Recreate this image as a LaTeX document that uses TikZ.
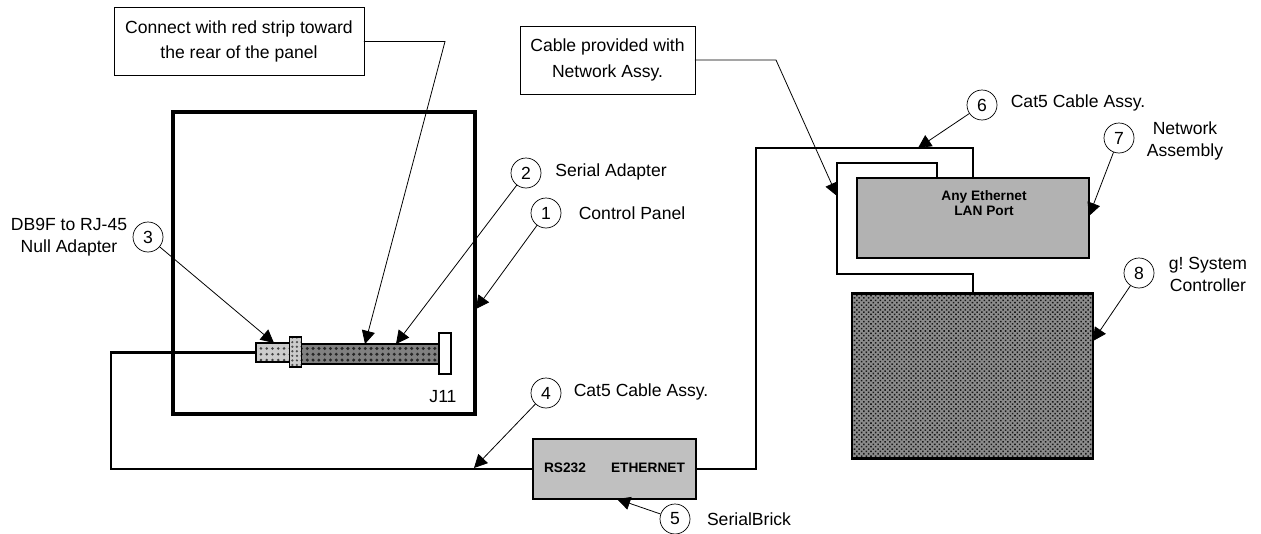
\documentclass[tikz,border=0pt]{standalone}
\usepackage{fontspec}
\setmainfont{Liberation Sans}
\frenchspacing
\usetikzlibrary{arrows.meta,patterns.meta}
\definecolor{netgray}{RGB}{178, 178, 178}
\definecolor{brickgray}{RGB}{192, 192, 192}
\tikzset{
  label10/.style={inner sep=0, outer sep=0, align=center, font=\fontsize{10}{12.5}\selectfont},
  noteb/.style={draw, line width=0.5pt, inner sep=0, outer sep=0, align=center, font=\fontsize{10}{14.3}\selectfont},
  num/.style={draw, circle, line width=0.4pt, minimum size=0.6cm, inner sep=0, fill=white, font=\fontsize{10}{12}\selectfont},
  devbox/.style={draw, line width=1.3pt, inner sep=0, outer sep=0, align=center},
  boldlbl/.style={inner sep=0, outer sep=0, align=center, font=\fontsize{7.8}{8.8}\selectfont\bfseries},
  cable/.style={line width=1.15pt},
  callout/.style={line width=0.45pt, -{Triangle[length=7.5pt,width=7.5pt]}},
}
\begin{document}
\begin{tikzpicture}[x=0.02cm,y=-0.02cm]
  \useasboundingbox (0,0) rectangle (1261,534);
  % Control panel
  \node[draw, line width=2.4pt, inner sep=0, outer sep=0, minimum width=6.04cm, minimum height=6.04cm] (panel) at (324,263) {};
  \node[label10] (jlabel) at (443,397) {J11};

  % Serial adapter parts
  \node[draw, line width=0.6pt, outer sep=0, minimum width=0.7cm, minimum height=0.38cm, preaction={fill=black!20}, pattern={Dots[radius=0.8pt,distance=3.3pt]}, pattern color=black!75] (adapter) at (273.5,352.5) {};
  \node[draw, line width=1pt, outer sep=0, minimum width=2.8cm, minimum height=0.4cm, preaction={fill=black!50}, pattern={Dots[radius=0.95pt,distance=3.3pt]}, pattern color=black!85] (strip) at (370,354) {};
  \node[draw, line width=0.6pt, outer sep=0, minimum width=0.18cm, minimum height=0.6cm, preaction={fill=black!20}, pattern={Dots[radius=0.7pt,distance=2.6pt]}, pattern color=black!70] (flange) at (295.5,352) {};
  \node[draw, line width=0.8pt, outer sep=0, minimum width=0.2cm, minimum height=0.82cm, fill=white] (jack) at (445,353.5) {};

  % Devices
  \node[devbox, fill=brickgray, minimum width=3.26cm, minimum height=1.2cm] (brick) at (614.5,469) {};
  \node[boldlbl] (rslabel) at (565,468) {RS232};
  \node[boldlbl] (ethlabel) at (648,468) {ETHERNET};
  \node[devbox, fill=netgray, minimum width=4.64cm, minimum height=1.6cm] (netbox) at (973,218) {};
  \node[boldlbl] (portlabel) at (984,203) {Any Ethernet\\LAN Port};
  \node[devbox, preaction={fill=black!45}, pattern={Dots[radius=0.62pt,distance=1.9pt,angle=45]}, pattern color=black!90, minimum width=4.82cm, minimum height=3.3cm] (ctrl) at (972.5,376) {};

  % Cable routing points
  \coordinate (cableL) at (111,400);
  \coordinate (cableR) at (756,148);
  \coordinate (portA) at (937,178);
  \coordinate (loopT) at (837,163);
  \coordinate (loopB) at (837,274);

  \draw[cable] (adapter.west) -| (cableL) |- (brick.west);
  \draw[cable] (brick.east) -| (cableR) -| (netbox.north);
  \draw[cable] (portA) |- (loopT) -- (loopB) -| (ctrl.north);

  % Notes
  \node[noteb, minimum width=5cm, minimum height=1.35cm] (note1) at (239,41.5) {Connect with red strip toward\\the rear of the panel};
  \node[noteb, minimum width=3.5cm, minimum height=1.36cm] (note2) at (607.5,60) {Cable provided with\\Network Assy.};

  % Numbered circles
  \node[num] (n1) at (546,213) {1};
  \node[num] (n2) at (526,173) {2};
  \node[num] (n3) at (148,237) {3};
  \node[num] (n4) at (546,393) {4};
  \node[num] (n5) at (675,519) {5};
  \node[num] (n6) at (982,105) {6};
  \node[num] (n7) at (1119,138) {7};
  \node[num] (n8) at (1139,273) {8};

  % Labels
  \node[label10] (t1) at (632,213) {Control Panel};
  \node[label10] (t2) at (611,172) {Serial Adapter};
  \node[label10] (t3) at (69,237) {DB9F to RJ-45\\Null Adapter};
  \node[label10] (t4) at (641,392) {Cat5 Cable Assy.};
  \node[label10] (t5) at (749,519) {SerialBrick};
  \node[label10] (t6) at (1078,103) {Cat5 Cable Assy.};
  \node[label10] (t7) at (1185,141) {Network\\Assembly};
  \node[label10] (t8) at (1208,274) {g! System\\Controller};

  % Arrow ends
  \coordinate (tip1) at (476,309);
  \coordinate (tip2) at (396,344);
  \coordinate (tip3) at (274,343);
  \coordinate (tip4) at (474,468);
  \coordinate (tip5) at (617,499);
  \coordinate (tip6) at (918,148);
  \coordinate (tip7) at (1089,216);
  \coordinate (tip8) at (1093,341);
  \coordinate (tipA) at (365,344);
  \coordinate (tipB) at (837,196);
  \coordinate (elbowA) at (445,41.5);
  \coordinate (elbowB) at (776,60);

  \draw[callout] (n1) -- (tip1);
  \draw[callout] (n2) -- (tip2);
  \draw[callout] (n3) -- (tip3);
  \draw[callout] (n4) -- (tip4);
  \draw[callout] (n5) -- (tip5);
  \draw[callout] (n6) -- (tip6);
  \draw[callout] (n7) -- (tip7);
  \draw[callout] (n8) -- (tip8);
  \draw[callout] (note1.east) -- (elbowA) -- (tipA);
  \draw[callout] (note2.east) -- (elbowB) -- (tipB);
\end{tikzpicture}
\end{document}
